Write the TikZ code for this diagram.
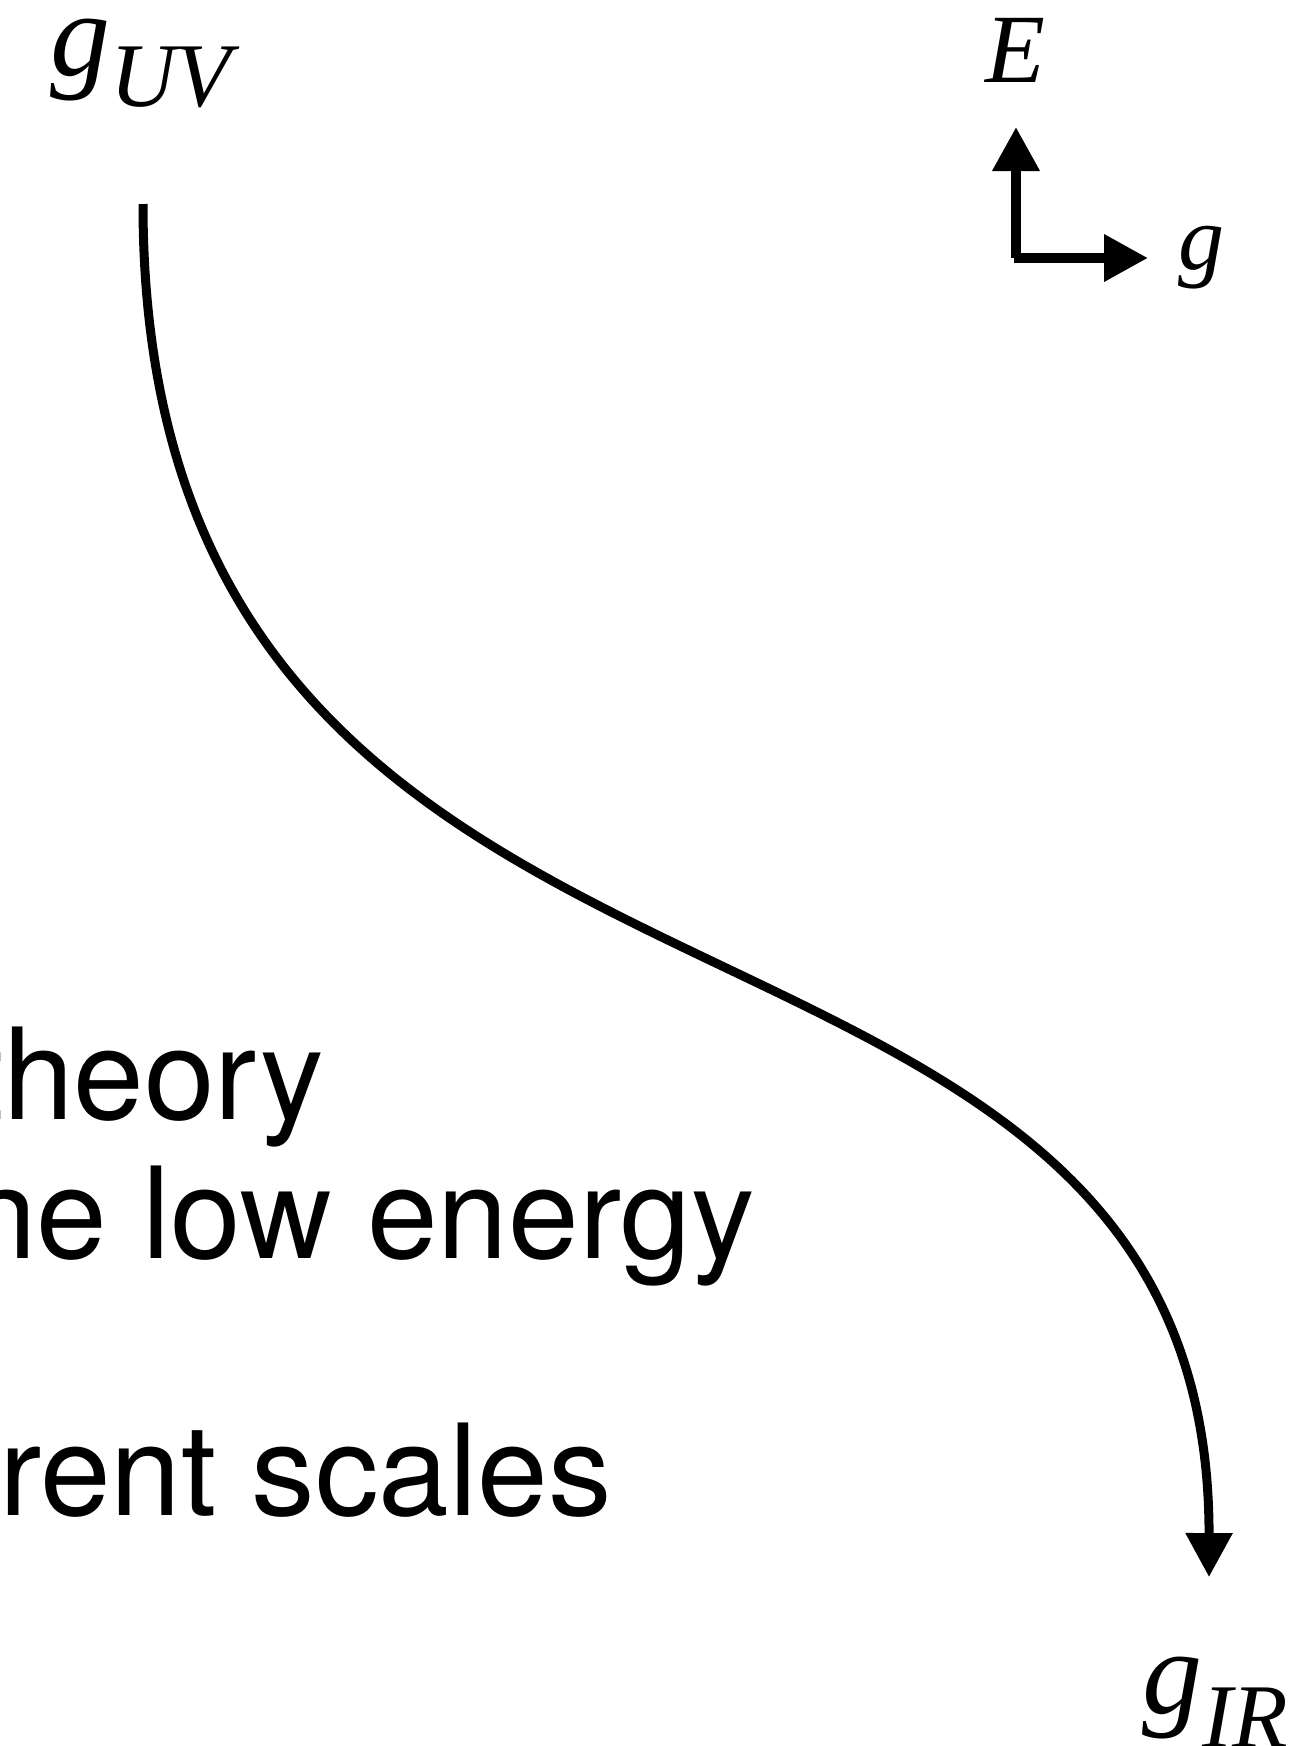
\documentclass[tikz,border=0pt]{standalone}
\usepackage{fontspec}
\setmainfont{Liberation Serif}
\newfontfamily\heros{TeX Gyre Heros}
\usetikzlibrary{arrows.meta}
\begin{document}
\begin{tikzpicture}[x=1pt,y=-1pt,
 flow/.style={line width=9pt,-{Triangle[length=44pt,width=45pt]}},
 axis/.style={line width=10pt,-{Triangle[length=44pt,width=45pt]}},
 lab/.style={inner sep=0pt,anchor=base west,font=\itshape},
 txt/.style={inner sep=0pt,anchor=base east,font=\heros\fontsize{127}{139}\selectfont}]
\useasboundingbox (0,0) rectangle (1316,1746);
\node[lab] (uv) at (50,75) {\fontsize{120}{130}\selectfont g\raisebox{-31pt}{\fontsize{91}{100}\selectfont UV}};
\node[lab] (ir) at (1142,1713) {\fontsize{120}{130}\selectfont g\raisebox{-34pt}{\fontsize{91}{100}\selectfont IR}};
\coordinate (uvend) at (143,204);
\coordinate (irend) at (1209,1577);
\draw[flow] (uvend) .. controls (143,1120) and (1210,818) .. (irend);
\coordinate (orig) at (1016,258);
\coordinate (Etip) at (1016,127);
\coordinate (gtip) at (1148,258);
\draw[axis] (orig) -- (Etip);
\draw[axis] ([xshift=-2pt]orig) -- (gtip);
\node[lab] (E) at (985,82) {\fontsize{98}{100}\selectfont E};
\node[lab] (g) at (1178,269) {\fontsize{92}{100}\selectfont g};
\node[txt] (l1) at (324,1119) {theory};
\node[txt] (l2) at (755,1258) {he low energy};
\node[txt] (l3) at (612,1515) {rent scales};
\end{tikzpicture}
\end{document}
